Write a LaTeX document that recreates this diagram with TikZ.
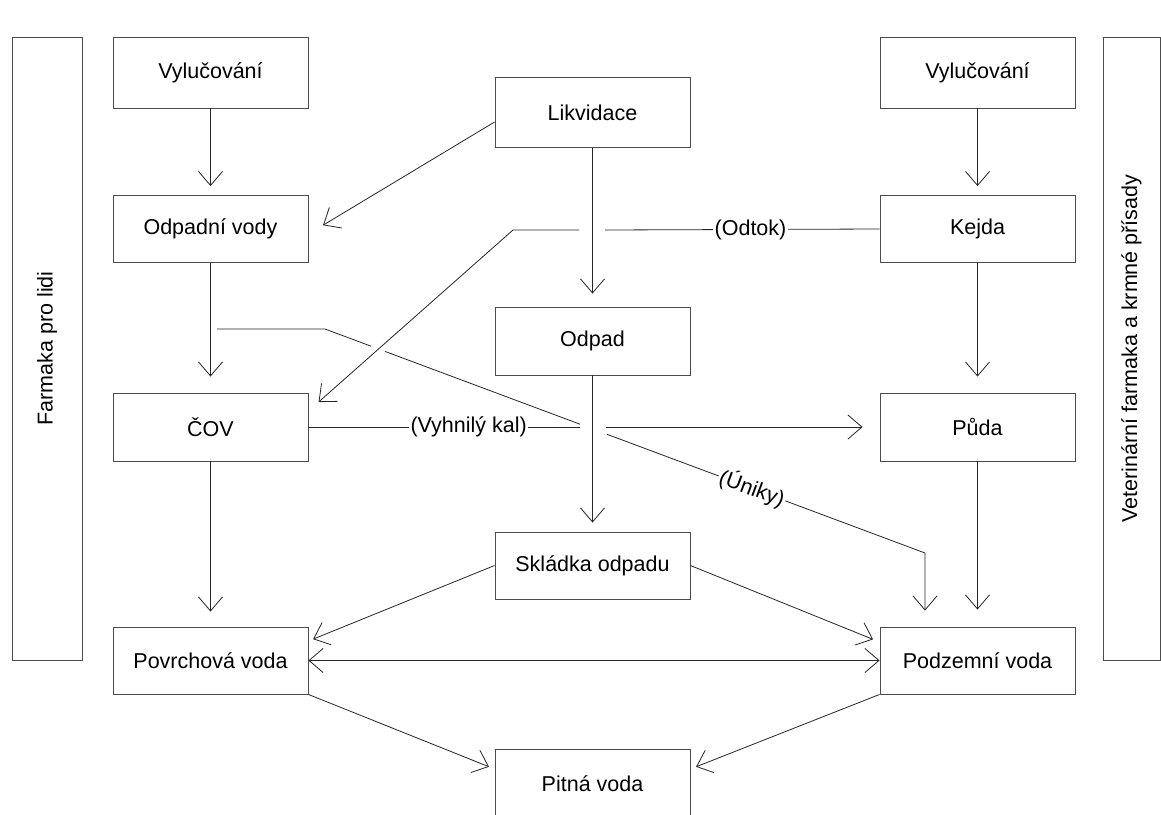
\documentclass[tikz,border=0pt]{standalone}
\usepackage{fontspec}
\setmainfont{Liberation Sans}
\usetikzlibrary{arrows.meta,calc}
\newcommand{\diagfont}{\fontsize{21.5}{26}\selectfont}
\begin{document}
\begin{tikzpicture}[x=1pt,y=-1pt,
  box/.style={draw=black!70, line width=0.9pt, minimum width=195pt, minimum height=68pt, inner sep=0pt, font=\diagfont, align=center},
  sidebox/.style={draw=black!70, line width=0.9pt, inner sep=0pt, font=\diagfont},
  conn/.style={draw=black!85, line width=0.8pt},
  arr/.style={conn, -{Straight Barb[length=14pt,width=24pt]}},
  darr/.style={conn, {Straight Barb[length=14pt,width=24pt]}-{Straight Barb[length=14pt,width=24pt]}},
  lbl/.style={fill=white, inner sep=1.5pt, font=\diagfont}]
\useasboundingbox (0,0) rectangle (1161,814);
\fill[white] (0,0) rectangle (1161,814);

% side boxes
\node[sidebox, rotate=90, minimum width=623pt, minimum height=70pt] (farL) at (47,348.5) {Farmaka pro lidi};
\node[sidebox, rotate=90, minimum width=623pt, minimum height=57pt] (farR) at (1131.5,348.5) {Veterinární farmaka a krmné přísady};

% left column
\node[box, minimum height=71pt] (vylL) at (210.5,72.5) {Vylučování};
\node[box, minimum height=67pt] (odv) at (210.5,229) {Odpadní vody};
\node[box] (cov) at (210.5,427) {ČOV};
\node[box, minimum height=67pt] (pov) at (210.5,660.5) {Povrchová voda};
% center column
\node[box, minimum height=70pt] (lik) at (592.5,112.5) {Likvidace};
\node[box] (odpad) at (592.5,341) {Odpad};
\node[box, minimum height=67pt] (skl) at (592.5,565.5) {Skládka odpadu};
\node[box, minimum height=70pt] (pit) at (592.5,784) {Pitná voda};
% right column
\node[box, minimum height=71pt] (vylR) at (977.5,72.5) {Vylučování};
\node[box, minimum height=67pt] (kejda) at (977.5,229) {Kejda};
\node[box] (puda) at (977.5,427) {Půda};
\node[box, minimum height=67pt] (podz) at (977.5,660.5) {Podzemní voda};

% helper coordinates (line jumps and bends)
\coordinate (jA) at (579,230);
\coordinate (jB) at (605,230);
\coordinate (bend1) at (513,230);
\coordinate (u0) at (217,329);
\coordinate (u1) at (325,329);
\coordinate (u2) at (925,553);
\coordinate (jC) at (580,427);
\coordinate (jD) at (606,427);

% vertical connectors
\draw[arr, shorten >=9pt] (vylL.south) -- (odv.north);
\draw[arr, shorten >=16pt] (odv.south) -- (cov.north);
\draw[arr, shorten >=15pt] (cov.south) -- (pov.north);
\draw[arr, shorten >=13pt] (lik.south) -- (odpad.north);
\draw[arr, shorten >=9pt] (odpad.south) -- (skl.north);
\draw[arr, shorten >=9pt] (vylR.south) -- (kejda.north);
\draw[arr, shorten >=16pt] (kejda.south) -- (puda.north);
\draw[arr, shorten >=17pt] (puda.south) -- (podz.north);

% Likvidace -> Odpadni vody
\draw[arr, shorten >=17pt] ([yshift=-9.5pt]lik.west) -- ([yshift=-5pt]odv.east);

% Kejda -> COV (Odtok)
\draw[conn] (kejda.west) -- node[lbl, pos=0.47] {(Odtok)} (jB);
\draw[arr, shorten >=13.5pt] (jA) -- (bend1) -- ([yshift=16pt]cov.east);

% Uniky
\draw[conn] (u0) -- (u1) -- ($(u1)!0.0767!(u2)$);
\draw[conn] ($(u1)!0.1!(u2)$) -- ($(u1)!0.425!(u2)$);
\draw[arr, shorten >=16pt] ($(u1)!0.47!(u2)$) -- node[lbl, sloped, pos=0.456] {(Úniky)} (u2) -- (u2 |- podz.north);

% COV -> Puda (Vyhnily kal)
\draw[conn] (cov.east) -- node[lbl, pos=0.59] {(Vyhnilý kal)} (jC);
\draw[arr, shorten >=17pt] (jD) -- (puda.west);

% Skladka -> waters
\draw[arr, shorten >=5pt] (skl.west) -- ([yshift=19.5pt]pov.east);
\draw[arr, shorten >=7pt] (skl.east) -- ([yshift=18.5pt]podz.west);
\draw[darr] (pov.east) -- (podz.west);

% waters -> Pitna voda
\draw[arr, shorten >=6pt] (pov.south east) -- ([yshift=15pt]pit.west);
\draw[arr, shorten >=6pt] (podz.south west) -- ([yshift=15pt]pit.east);
\end{tikzpicture}
\end{document}
